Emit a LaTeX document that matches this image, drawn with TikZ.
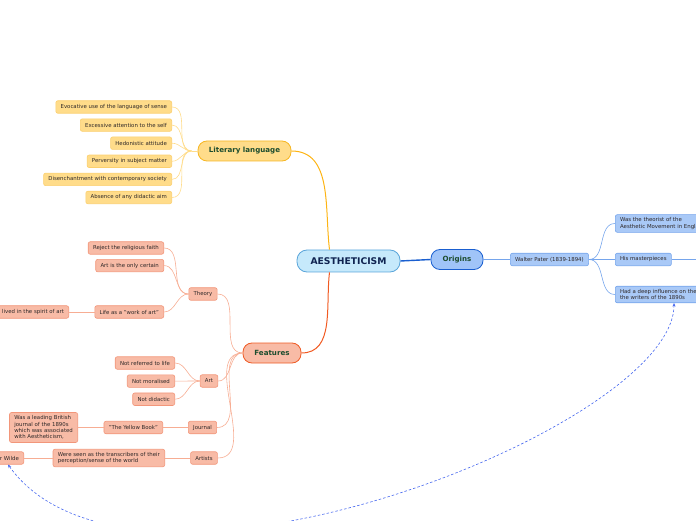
\documentclass[tikz,border=0pt]{standalone}
\usepackage{fontspec}
\setmainfont{DejaVu Sans}
\usepackage{tikz}
\usetikzlibrary{arrows.meta,positioning,calc}
\usepackage{xcolor}
\definecolor{rootfill}{HTML}{C6E9FB}
\definecolor{rootline}{HTML}{5AA5DA}
\definecolor{rootink}{HTML}{0F2350}
\definecolor{topicink}{HTML}{1D4D2E}
\definecolor{ink}{HTML}{2E2828}
\definecolor{litfill}{HTML}{FFDC8A}
\definecolor{litline}{HTML}{F6B622}
\definecolor{lleafline}{HTML}{FBCF6E}
\definecolor{litmain}{HTML}{FDB414}
\definecolor{featfill}{HTML}{F8BBA6}
\definecolor{featline}{HTML}{EF5B25}
\definecolor{sleafline}{HTML}{F2967A}
\definecolor{featmain}{HTML}{F15A22}
\definecolor{origfill}{HTML}{A0C4F8}
\definecolor{origline}{HTML}{1A5FD0}
\definecolor{bleaffill}{HTML}{A9C9F7}
\definecolor{bleafline}{HTML}{75A5EC}
\definecolor{relcol}{HTML}{4466EE}
\tikzset{
  rootbox/.style={draw=rootline,fill=rootfill,rounded corners=10pt,line width=0.8pt,
    minimum width=103pt,minimum height=22pt,text=rootink,
    font=\fontsize{9.2}{10}\selectfont\bfseries},
  topic/.style={rounded corners=9pt,line width=0.8pt,minimum height=20pt,text=topicink,
    font=\fontsize{7.1}{8}\selectfont\bfseries},
  leaf/.style={rounded corners=2pt,line width=0.6pt,minimum height=12.5pt,align=left,
    inner xsep=4.8pt,inner ysep=3pt,text=ink,font=\fontsize{5.4}{6.4}\selectfont},
  yleaf/.style={leaf,draw=lleafline,fill=litfill},
  sleaf/.style={leaf,draw=sleafline,fill=featfill},
  bleaf/.style={leaf,draw=bleafline,fill=bleaffill},
  ylink/.style={draw=litfill,line width=0.6pt},
  slink/.style={draw=featfill!85!featline,line width=0.6pt},
  blink/.style={draw=bleafline,line width=0.6pt},
  relation/.style={{Stealth[length=3.5pt,width=3pt]}-{Stealth[length=3.5pt,width=3pt]},
    draw=relcol,line width=0.6pt,dash pattern=on 2.5pt off 2pt}
}
\begin{document}
\begin{tikzpicture}[x=1pt,y=1pt,node distance=5pt]
  \useasboundingbox (0,0) rectangle (696,520);
  \clip (0,0) rectangle (696,520);
  \node[rootbox] (root) at (348.5,259) {AESTHETICISM};
  \node[topic,draw=litline,fill=litfill,minimum width=93pt] (lit) at (244.5,369) {Literary language};
  \node[topic,draw=featline,fill=featfill,minimum width=58pt] (feat) at (272,167) {Features};
  \node[topic,draw=origline,fill=origfill,minimum width=52pt] (orig) at (457,260.5) {Origins};

  \node[yleaf,anchor=east] (evoc) at (172,413) {Evocative use of the language of sense};
  \node[yleaf,below=of evoc.south east,anchor=north east] (self) {Excessive attention to the self};
  \node[yleaf,below=of self.south east,anchor=north east] (hedon) {Hedonistic attitude};
  \node[yleaf,below=of hedon.south east,anchor=north east] (pervers) {Perversity in subject matter};
  \node[yleaf,below=of pervers.south east,anchor=north east] (disench) {Disenchantment with contemporary society};
  \node[yleaf,below=of disench.south east,anchor=north east] (absence) {Absence of any didactic aim};

  \node[sleaf] (theory) at (203,226) {Theory};
  \node[sleaf,anchor=east] (reject) at (164,272) {Reject the religious faith};
  \node[sleaf,below=4.5pt of reject.south east,anchor=north east] (certain) {Art is the only certain};
  \node[sleaf,anchor=east] (lifeart) at (164,208) {Life as a "work of art"};
  \node[sleaf,anchor=east] (spirit) at (69,208) {lived in the spirit of art};

  \node[sleaf] (art) at (209,139) {Art};
  \node[sleaf,anchor=east] (notlife) at (175,157) {Not referred to life};
  \node[sleaf,below=of notlife.south east,anchor=north east] (notmoral) {Not moralised};
  \node[sleaf,below=of notmoral.south east,anchor=north east] (notdidac) {Not didactic};

  \node[sleaf] (journal) at (202.5,92.5) {Journal};
  \node[sleaf,anchor=east] (yellow) at (163,92.5) {"The Yellow Book"};
  \node[sleaf,anchor=east] (leading) at (78,92.5) {Was a leading British\\journal of the 1890s\\which was associated\\with Aestheticism,};

  \node[sleaf] (artists) at (204,62) {Artists};
  \node[sleaf,anchor=east] (transcr) at (165,62) {Were seen as the transcribers of their\\perception/sense of the world};
  \node[sleaf,anchor=east] (wilde) at (24,62) {Oscar Wilde};

  \node[bleaf] (pater) at (549.5,260.5) {Walter Pater (1839-1894)};
  \node[bleaf,anchor=west] (theorist) at (615,296.5) {Was the theorist of the\\Aesthetic Movement in England};
  \node[bleaf,anchor=west] (master) at (615,260.5) {His masterpieces};
  \node[bleaf,anchor=west] (influence) at (615,225.5) {Had a deep influence on the\\the writers of the 1890s};
  \coordinate (mastnext) at (710,260.5);

  \draw[draw=litmain,line width=1pt] ($(root.north)+(-19,0)$) to[out=97,in=0] (lit.east);
  \draw[draw=featmain,line width=1pt] ($(root.south)+(-19,0)$) to[out=-97,in=0] (feat.east);
  \draw[draw=origline,line width=1.4pt] (root.east) -- (orig.west);
  \draw[blink] (orig.east) -- (pater.west);
  \foreach \n in {theorist,master,influence}
    \draw[blink] (pater.east) to[out=0,in=180] (\n.west);
  \draw[blink] (master.east) -- (mastnext);

  \coordinate (lithub) at ($(lit.west)+(-6,0)$);
  \draw[ylink] (lit.west) -- (lithub);
  \foreach \n in {evoc,self,hedon,pervers,disench,absence}
    \draw[ylink] (lithub) to[out=180,in=0] (\n.east);

  \foreach \n in {theory,art,journal,artists}
    \draw[slink] (feat.west) to[out=180,in=0] (\n.east);
  \foreach \n in {reject,certain,lifeart}
    \draw[slink] (theory.west) to[out=180,in=0] (\n.east);
  \draw[slink] (lifeart) -- (spirit);
  \foreach \n in {notlife,notmoral,notdidac}
    \draw[slink] (art.west) to[out=180,in=0] (\n.east);
  \draw[slink] (journal) -- (yellow) -- (leading);
  \draw[slink] (artists) -- (transcr) -- (wilde);

  \draw[relation] ($(influence.south west)+(59,0)$) .. controls +(0,-125) and +(125,-175) .. ($(wilde.south east)+(-16,0)$);
\end{tikzpicture}
\end{document}
